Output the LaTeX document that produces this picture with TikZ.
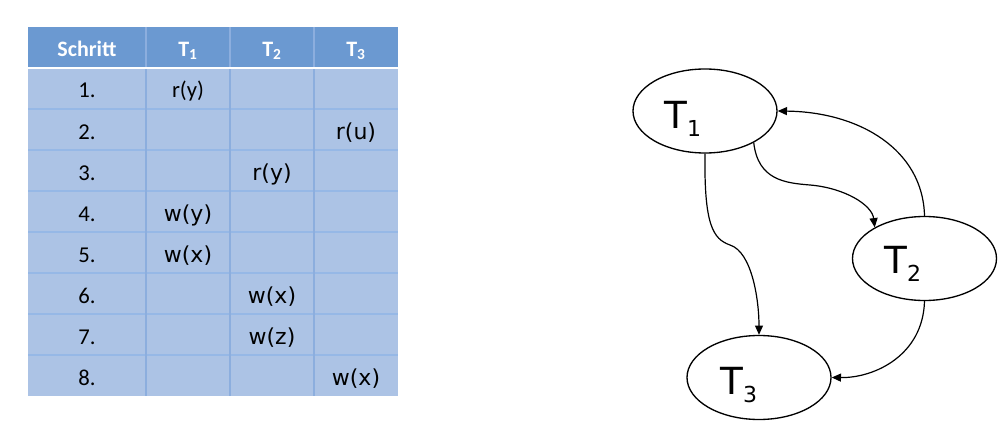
\documentclass[tikz,border=0pt]{standalone}
\usepackage{fontspec}
\setmainfont{Carlito}
\newfontfamily\dvfont{DejaVu Sans}
\usetikzlibrary{shapes.geometric,arrows.meta}
\definecolor{hdr}{RGB}{107,153,209}
\definecolor{bodyc}{RGB}{172,195,229}
\definecolor{vline}{RGB}{140,174,222}
\definecolor{hline}{RGB}{150,184,230}
\newcommand\TTsub[1]{\raisebox{-6pt}{\fontsize{16.5}{18}\selectfont #1}}
\begin{document}
\begin{tikzpicture}[x=0.75pt,y=-0.75pt,
 hdrtxt/.style={text=white,font=\fontsize{16.5}{19}\selectfont\bfseries,anchor=base,inner sep=0},
 numtxt/.style={font=\fontsize{17}{20}\selectfont,anchor=base,inner sep=0},
 optxt/.style={font=\dvfont\fontsize{16.5}{19}\selectfont,anchor=base,inner sep=0},
 tnode/.style={draw,ellipse,line width=1pt,minimum width=108pt,minimum height=63pt,inner sep=0},
 tlbl/.style={font=\dvfont\fontsize{28}{32}\selectfont,anchor=base west,inner sep=0},
 dep/.style={line width=0.9pt,-{Triangle[length=7pt,width=6pt]}}]
\useasboundingbox (0,0) rectangle (1007,428);
% table
\fill[bodyc] (28,68) rectangle (398,396);
\fill[hdr] (28,27) rectangle (398,68);
\foreach \yy in {109,150,...,355} \draw[hline,line width=1pt] (28,\yy) -- (398,\yy);
\foreach \xx in {146,230,314} \draw[vline,line width=1pt] (\xx,27) -- (\xx,396);
\draw[white,line width=2pt] (28,68) -- (398,68);
% header
\node[hdrtxt] (hs) at (87,56.5) {Schritt};
\node[hdrtxt] (h1) at (188,56.5) {T\textsubscript{1}};
\node[hdrtxt] (h2) at (272,56.5) {T\textsubscript{2}};
\node[hdrtxt] (h3) at (356,56.5) {T\textsubscript{3}};
% step numbers
\foreach \n in {1,...,8}
  \node[numtxt] (s\n) at (87,{68+41*(\n-1)+30}) {\n.};
% operations
\node[numtxt] (o1) at (188,98) {r(y)};
\node[optxt] (o2) at (356,139) {r(u)};
\node[optxt] (o3) at (272,180) {r(y)};
\node[optxt] (o4) at (188,221) {w(y)};
\node[optxt] (o5) at (188,262) {w(x)};
\node[optxt] (o6) at (272,303) {w(x)};
\node[optxt] (o7) at (272,344) {w(z)};
\node[optxt] (o8) at (356,385) {w(x)};
% graph
\node[tnode] (T1) at (705,111) {};
\node[tnode] (T2) at (924.5,258.5) {};
\node[tnode] (T3) at (759,377.5) {};
\node[tlbl] (l1) at (664,128) {T\TTsub{1}};
\node[tlbl] (l2) at (884,273) {T\TTsub{2}};
\node[tlbl] (l3) at (720,394) {T\TTsub{3}};
\coordinate (m12) at (810,185);
\coordinate (m13) at (730,245);
\draw[dep] (T2.north) .. controls (923,150) and (860,112) .. (T1.east);
\draw[dep] (T1.-33) .. controls (758,180) and (785,183) .. (m12)
   .. controls (845,188) and (872,205) .. (T2.148);
\draw[dep] (T1.south) .. controls (704,225) and (713,239) .. (m13)
   .. controls (752,252) and (759,300) .. (T3.north);
\draw[dep] (T2.south) .. controls (923,355) and (875,378) .. (T3.east);
\end{tikzpicture}
\end{document}
